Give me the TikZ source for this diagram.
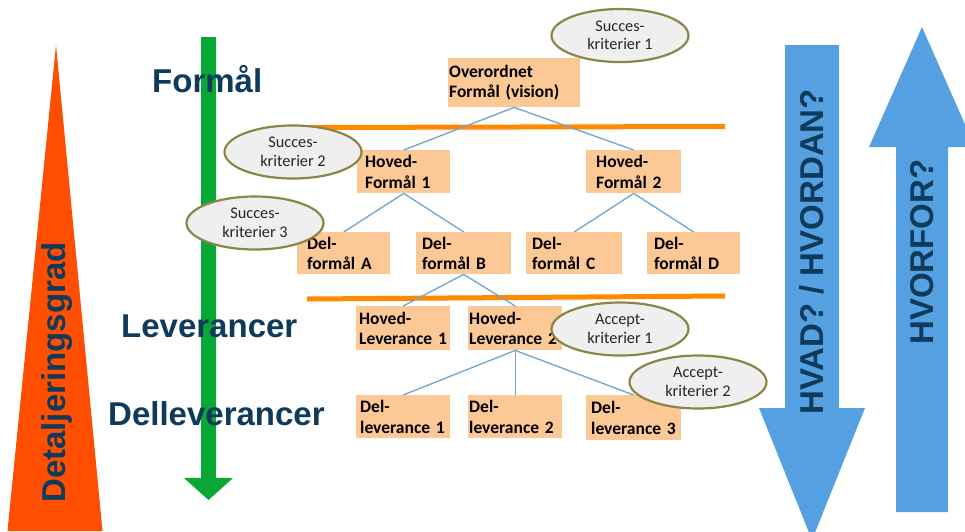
\documentclass[tikz,border=0pt]{standalone}
\usepackage{fontspec}
\newfontfamily\carlito{Carlito}
\newfontfamily\libsans{Liberation Sans}
\usetikzlibrary{shapes.geometric}
\definecolor{navy}{HTML}{0E3A5C}
\definecolor{tri}{HTML}{FF4E00}
\definecolor{grn}{HTML}{08A836}
\definecolor{oline}{HTML}{FF8A00}
\definecolor{peach}{HTML}{FCC896}
\definecolor{ellfill}{HTML}{EFEFEF}
\definecolor{olive}{HTML}{8C8548}
\definecolor{conncol}{HTML}{6AA6D0}
\definecolor{blu}{HTML}{55A0E0}
\tikzset{
  bx/.style={fill=peach, inner ysep=0pt, align=left, anchor=north west,
    font=\carlito\bfseries\fontsize{17.5}{20.5}\selectfont, text=black},
  ell/.style={ellipse, draw=olive, line width=2.2pt, fill=ellfill, minimum width=137pt,
    minimum height=53pt, inner sep=0pt, align=center,
    font=\carlito\fontsize{16.3}{18.5}\selectfont, text=black!85},
  big/.style={font=\libsans\bfseries\fontsize{33}{36}\selectfont, text=navy, inner sep=0pt},
  conn/.style={draw=conncol, line width=1.3pt},
  oband/.style={draw=oline, line width=5pt}
}
% name, x, y, text width, inset, height, text   (box width = text width + 2 inset)
\newcommand{\bx}[7]{\node[bx, text width=#4pt, inner xsep=#5pt, minimum height=#6pt] (#1) at (#2,#3) {#7};}
\begin{document}
\begin{tikzpicture}[x=1pt,y=-1pt]
\useasboundingbox (0,0) rectangle (965,531);
\clip (0,0) rectangle (965,531);
\fill[white] (0,0) rectangle (965,531);
% detail triangle
\fill[tri] (56,45) -- (102.5,531) -- (7.5,531) -- cycle;
\node[big, rotate=90, anchor=base west] (det) at (65,503) {Detaljeringsgrad};
% orange separators
\coordinate (o1a) at (308,127.5); \coordinate (o1b) at (725,126.5);
\coordinate (o2a) at (307,299); \coordinate (o2b) at (725,296);
\draw[oband] (o1a) -- (o1b);
\draw[oband] (o2a) -- (o2b);
% boxes
\bx{ov}{448}{58}{130}{1}{49}{Overordnet\\Formål (vision)}
\bx{hf1}{357}{150}{77}{8}{43}{Hoved-\\Formål~1}
\bx{hf2}{586}{150}{75}{10}{43}{Hoved-\\Formål~2}
\bx{dA}{297}{232}{73}{10}{42}{Del-\\formål~A}
\bx{dB}{416}{232}{83}{6}{42}{Del-\\formål~B}
\bx{dC}{526}{232}{84}{6}{42}{Del-\\formål~C}
\bx{dD}{647}{232}{79}{7}{42}{Del-\\formål~D}
\bx{hl1}{356}{306}{88}{3}{44}{Hoved-\\Leverance~1}
\bx{hl2}{468}{306}{92}{1}{44}{Hoved-\\Leverance~2}
\bx{dl1}{356}{395}{86}{4}{43}{Del-\\leverance~1}
\bx{dl2}{468}{395}{92}{1}{43}{Del-\\leverance~2}
\bx{dl3}{586}{395}{85}{5}{45}{Del-\\leverance~3}
% connectors
\draw[conn] (ov.south) -- (hf1.north);
\draw[conn] (ov.south) -- (hf2.north);
\draw[conn] (hf1.south) -- (dA.north);
\draw[conn] (hf1.south) -- (dB.north);
\draw[conn] (hf2.south) -- (dC.north);
\draw[conn] (hf2.south) -- (dD.north);
\draw[conn] (dB.south) -- (hl1.north);
\draw[conn] (dB.south) -- (hl2.north);
\draw[conn] (hl2.south) -- (dl1.north);
\draw[conn] (hl2.south) -- (dl2.north);
\draw[conn] (hl2.south) -- (dl3.north);
% green arrow
\fill[grn] (201,37) -- (216,37) -- (216,478) -- (233,478) -- (208.5,500) -- (184,478) -- (201,478) -- cycle;
% level labels
\node[big, anchor=base west] (formal) at (152,92) {Formål};
\node[big, anchor=base west] (lev) at (121,337) {Leverancer};
\node[big, anchor=base west] (dlev) at (108,425) {Delleverancer};
% ellipses
\node[ell] (s1) at (620,35.5) {Succes-\\kriterier 1};
\node[ell] (s2) at (293,152) {Succes-\\kriterier 2};
\node[ell] (s3) at (255,223) {Succes-\\kriterier 3};
\node[ell] (a1) at (620,329) {Accept-\\kriterier 1};
\node[ell] (a2) at (698,382) {Accept-\\kriterier 2};
% blue arrows
\fill[blu] (785,45) -- (839,45) -- (839,408) -- (865,408) -- (812,540) -- (759,408) -- (785,408) -- cycle;
\node[big, rotate=90, anchor=base west] (hvad) at (823,415) {HVAD? / HVORDAN?};
\fill[blu] (922,27) -- (975,147) -- (948,147) -- (948,512) -- (896,512) -- (896,147) -- (869,147) -- cycle;
\node[big, rotate=90, anchor=base west] (hvorfor) at (933,345) {HVORFOR?};
\end{tikzpicture}
\end{document}
